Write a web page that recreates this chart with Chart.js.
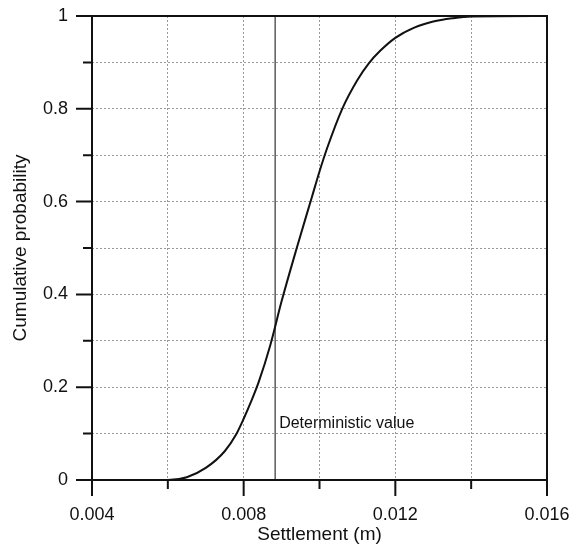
<!DOCTYPE html>
<html>
<head>
<meta charset="utf-8">
<script src="https://cdn.jsdelivr.net/npm/chart.js@4"></script>
<style>
  html, body { margin: 0; padding: 0; background: #fff; }
  #wrap { width: 582px; height: 547px; }
</style>
</head>
<body>
<div id="wrap"><canvas id="cdfChart" width="582" height="547"></canvas></div>
<script>
// data
const settlement = [0.004, 0.006, 0.0065, 0.007, 0.0075, 0.0078, 0.008, 0.0082, 0.0084, 0.0087, 0.009, 0.0094, 0.0098, 0.010, 0.0102, 0.0106, 0.011, 0.0113, 0.0116, 0.012, 0.0125, 0.013, 0.0135, 0.014, 0.016];
const cumProb = [0, 0, 0.006, 0.026, 0.062, 0.098, 0.132, 0.17, 0.212, 0.29, 0.385, 0.50, 0.61, 0.665, 0.715, 0.80, 0.862, 0.898, 0.925, 0.953, 0.975, 0.988, 0.995, 0.999, 1];
const deterministicValue = 0.00883;
const deterministicLabel = 'Deterministic value';
const deterministicLabelY = 0.125;
const xTickLabels = ['0.004', '0.008', '0.012', '0.016'];
const yTickLabels = ['0', '0.2', '0.4', '0.6', '0.8', '1'];

const font = 'Liberation Sans, Arial, sans-serif';

// frame, major/minor ticks and the annotation text
const framePlugin = {
  id: 'frame',
  afterDraw(chart) {
    const ctx = chart.ctx;
    const a = chart.chartArea;
    const xs = chart.scales.x, ys = chart.scales.y;
    ctx.save();
    ctx.setLineDash([]);
    ctx.strokeStyle = '#111';
    ctx.lineWidth = 2;
    ctx.strokeRect(a.left, a.top, a.right - a.left, a.bottom - a.top);

    ctx.beginPath();
    xs.ticks.forEach((t, i) => {
      const px = xs.getPixelForValue(t.value);
      ctx.moveTo(px, a.bottom);
      ctx.lineTo(px, a.bottom + (i % 2 === 0 ? 16 : 9));
    });
    ys.ticks.forEach((t, i) => {
      const py = ys.getPixelForValue(t.value);
      ctx.moveTo(a.left, py);
      ctx.lineTo(a.left - (i % 2 === 0 ? 16 : 9), py);
    });
    ctx.stroke();

    ctx.fillStyle = '#111';
    ctx.font = '16px ' + font;
    ctx.textAlign = 'left';
    ctx.textBaseline = 'alphabetic';
    ctx.fillText(deterministicLabel, xs.getPixelForValue(deterministicValue) + 4, ys.getPixelForValue(deterministicLabelY) + 6);
    ctx.restore();
  }
};

new Chart(document.getElementById('cdfChart'), {
  type: 'line',
  data: {
    datasets: [{
      data: settlement.map((s, i) => ({ x: s, y: cumProb[i] })),
      borderColor: '#111',
      borderWidth: 2,
      pointRadius: 0,
      cubicInterpolationMode: 'monotone',
      fill: false
    }, {
      data: [{ x: deterministicValue, y: 0 }, { x: deterministicValue, y: 1 }],
      borderColor: '#333',
      borderWidth: 1.2,
      pointRadius: 0,
      fill: false
    }]
  },
  options: {
    responsive: false,
    animation: false,
    layout: { padding: { left: 0, right: 35, top: 16, bottom: 0 } },
    plugins: {
      legend: { display: false },
      tooltip: { enabled: false }
    },
    scales: {
      x: {
        type: 'linear',
        min: 0.004,
        max: 0.016,
        afterFit: s => { s.height = 67; s.paddingLeft = 0; s.paddingRight = 0; },
        ticks: {
          stepSize: 0.002,
          autoSkip: false,
          maxRotation: 0,
          padding: 24,
          color: '#111',
          font: { family: font, size: 18 },
          callback: (v, i) => (i % 2 === 0 ? xTickLabels[i / 2] : '')
        },
        grid: { color: '#999', lineWidth: 1, drawTicks: false },
        border: { display: false, dash: [2, 2] },
        title: {
          display: true,
          text: 'Settlement (m)',
          color: '#111',
          font: { family: font, size: 19 },
          padding: { top: 0, bottom: 1 }
        }
      },
      y: {
        min: 0,
        max: 1,
        afterFit: s => { s.width = 92; s.paddingTop = 0; s.paddingBottom = 0; },
        ticks: {
          stepSize: 0.1,
          autoSkip: false,
          padding: 24,
          color: '#111',
          font: { family: font, size: 18 },
          callback: (v, i) => (i % 2 === 0 ? yTickLabels[i / 2] : '')
        },
        grid: { color: '#999', lineWidth: 1, drawTicks: false },
        border: { display: false, dash: [2, 2] },
        title: {
          display: true,
          text: 'Cumulative probability',
          color: '#111',
          font: { family: font, size: 19 },
          padding: { top: 9, bottom: 0 }
        }
      }
    }
  },
  plugins: [framePlugin]
});
</script>
</body>
</html>
